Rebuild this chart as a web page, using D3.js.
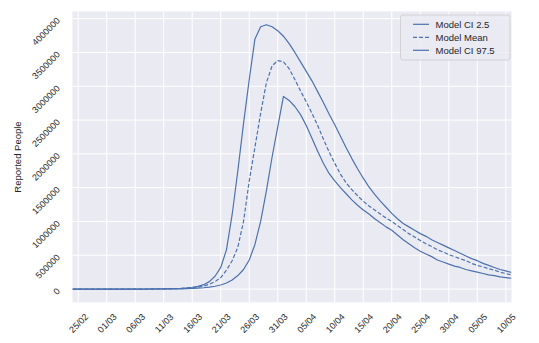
<!DOCTYPE html>
<html>
<head>
<meta charset="utf-8">
<script src="https://cdn.jsdelivr.net/npm/d3@7"></script>
<style>
  html, body { margin: 0; padding: 0; background: #ffffff; }
  svg { display: block; font-family: "Liberation Sans", Arial, sans-serif; }
</style>
</head>
<body>
<svg id="chart" width="539" height="343"></svg>
<script>
// Daily model output, 24/02/2020 .. 11/05/2020
const firstDay = "2020-02-24";
const lastDay = "2020-05-11";

const ciLow = [
  0, 0, 0, 0, 0, 0, 0, 0, 0, 0, 0,
  200, 300, 500, 700, 1000, 1500, 2000, 3000, 4000, 6000,
  9000, 14000, 20000, 30000, 42000, 60000, 90000, 135000, 200000, 290000,
  430000, 660000, 1000000, 1450000, 1950000, 2400000, 2850000, 2790000, 2700000, 2580000,
  2420000, 2230000, 2040000, 1860000, 1710000, 1600000, 1500000, 1410000, 1320000, 1240000,
  1170000, 1110000, 1040000, 980000, 920000, 870000, 800000, 730000, 670000, 610000,
  560000, 520000, 480000, 430000, 400000, 370000, 340000, 320000, 290000, 270000,
  250000, 230000, 210000, 200000, 180000, 170000, 160000
];

const modelMean = [
  0, 0, 0, 0, 0, 0, 0, 0, 0, 0, 0,
  300, 500, 800, 1200, 1700, 2500, 3500, 5000, 8000, 12000,
  18000, 28000, 45000, 72000, 110000, 170000, 280000, 420000, 620000, 1000000,
  1600000, 2100000, 2600000, 3050000, 3300000, 3380000, 3360000, 3260000, 3100000, 2930000,
  2770000, 2600000, 2420000, 2220000, 2030000, 1860000, 1700000, 1570000, 1470000, 1380000,
  1300000, 1230000, 1170000, 1110000, 1050000, 1000000, 940000, 880000, 820000, 770000,
  720000, 670000, 630000, 580000, 550000, 510000, 480000, 450000, 420000, 380000,
  350000, 330000, 300000, 280000, 250000, 230000, 210000
];

const ciHigh = [
  0, 0, 0, 0, 0, 0, 0, 0, 0, 0, 0,
  500, 800, 1200, 1800, 2600, 3800, 5500, 8000, 12000, 18000,
  27000, 40000, 65000, 110000, 190000, 320000, 580000, 1100000, 1750000, 2450000,
  3100000, 3700000, 3880000, 3910000, 3880000, 3820000, 3740000, 3630000, 3500000, 3360000,
  3220000, 3080000, 2920000, 2760000, 2590000, 2430000, 2260000, 2090000, 1930000, 1780000,
  1640000, 1510000, 1400000, 1300000, 1210000, 1120000, 1040000, 970000, 920000, 870000,
  820000, 780000, 730000, 690000, 650000, 610000, 570000, 530000, 490000, 450000,
  420000, 380000, 350000, 320000, 290000, 270000, 245000
];

const xTickLabels = ["25/02", "01/03", "06/03", "11/03", "16/03", "21/03", "26/03", "31/03",
  "05/04", "10/04", "15/04", "20/04", "25/04", "30/04", "05/05", "10/05"];
const yTickValues = [0, 500000, 1000000, 1500000, 2000000, 2500000, 3000000, 3500000, 4000000];

const seriesNames = ["Model CI 2.5", "Model Mean", "Model CI 97.5"];
const seriesDash = [null, "4,2", null];

// ---- layout ----
const svg = d3.select("#chart");
const plot = { left: 72.5, right: 511.5, top: 11.5, bottom: 302.3 };
const lineColor = "#4C72B0";
const textColor = "#262626";

const parseIso = d3.timeParse("%Y-%m-%d");
const parseTick = s => { const [dd, mm] = s.split("/"); return new Date(2020, +mm - 1, +dd); };
const days = d3.timeDay.range(parseIso(firstDay), d3.timeDay.offset(parseIso(lastDay), 1));

const x = d3.scaleTime()
  .domain([parseIso(firstDay), parseIso(lastDay)])
  .range([plot.left, plot.right]);

const yMax = d3.max(ciHigh);
const pad = yMax * 0.05;
const y = d3.scaleLinear()
  .domain([-pad, yMax + pad])
  .range([plot.bottom, plot.top]);

// background
svg.append("rect")
  .attr("x", plot.left).attr("y", plot.top)
  .attr("width", plot.right - plot.left).attr("height", plot.bottom - plot.top)
  .attr("fill", "#EAEAF2");

const xTicks = xTickLabels.map(parseTick);

// grid
const grid = svg.append("g");
grid.selectAll("line.v").data(xTicks).join("line")
  .attr("x1", d => x(d)).attr("x2", d => x(d))
  .attr("y1", plot.top).attr("y2", plot.bottom)
  .attr("stroke", "#ffffff").attr("stroke-width", 1);
grid.selectAll("line.h").data(yTickValues).join("line")
  .attr("x1", plot.left).attr("x2", plot.right)
  .attr("y1", d => y(d)).attr("y2", d => y(d))
  .attr("stroke", "#ffffff").attr("stroke-width", 1);

// x axis (labels only, rotated)
const xAxis = d3.axisBottom(x).tickValues(xTicks).tickSize(0)
  .tickFormat((d, i) => xTickLabels[i]);
const gx = svg.append("g").attr("transform", `translate(0,${plot.bottom})`).call(xAxis);
gx.select(".domain").remove();
gx.selectAll(".tick text")
  .attr("fill", textColor)
  .attr("font-size", 9)
  .attr("font-family", "Liberation Sans, Arial, sans-serif")
  .attr("text-anchor", "middle")
  .attr("dy", null).attr("y", null)
  .attr("dominant-baseline", "central")
  .attr("transform", "translate(0,21) rotate(-45)");

// y axis (labels only, rotated about their right end)
const yAxis = d3.axisLeft(y).tickValues(yTickValues).tickSize(0).tickFormat(d3.format("d"));
const gy = svg.append("g").attr("transform", `translate(${plot.left},0)`).call(yAxis);
gy.select(".domain").remove();
gy.selectAll(".tick text")
  .attr("fill", textColor)
  .attr("font-size", 9)
  .attr("font-family", "Liberation Sans, Arial, sans-serif")
  .attr("text-anchor", "end")
  .attr("x", null).attr("dy", null)
  .attr("dominant-baseline", "central")
  .attr("transform", "translate(-14,0) rotate(-45)");

svg.append("text")
  .attr("transform", "translate(17,157) rotate(-90)")
  .attr("text-anchor", "middle")
  .attr("dominant-baseline", "central")
  .attr("font-size", 9.5)
  .attr("fill", textColor)
  .text("Reported People");

// lines
const allSeries = [ciLow, modelMean, ciHigh];
const line = d3.line().x((d, i) => x(days[i])).y(d => y(d));
const clip = svg.append("clipPath").attr("id", "plotclip").append("rect")
  .attr("x", plot.left).attr("y", plot.top)
  .attr("width", plot.right - plot.left).attr("height", plot.bottom - plot.top);
const lines = svg.append("g").attr("clip-path", "url(#plotclip)");
allSeries.forEach((s, k) => {
  lines.append("path")
    .datum(s)
    .attr("d", line)
    .attr("fill", "none")
    .attr("stroke", lineColor)
    .attr("stroke-width", 1.2)
    .attr("stroke-dasharray", seriesDash[k])
    .attr("stroke-linejoin", "round");
});

// legend
const lg = svg.append("g").attr("transform", "translate(400.5,15)");
lg.append("rect")
  .attr("width", 109.5).attr("height", 45).attr("rx", 2.5)
  .attr("fill", "#EAEAF2").attr("fill-opacity", 0.8)
  .attr("stroke", "#cccccc").attr("stroke-width", 0.8);
seriesNames.forEach((name, k) => {
  const yy = 9.3 + k * 13;
  lg.append("line")
    .attr("x1", 12.5).attr("x2", 28.5).attr("y1", yy).attr("y2", yy)
    .attr("stroke", lineColor).attr("stroke-width", 1.2)
    .attr("stroke-dasharray", seriesDash[k]);
  lg.append("text")
    .attr("x", 35).attr("y", yy)
    .attr("dominant-baseline", "central")
    .attr("font-size", 9.5)
    .attr("fill", textColor)
    .text(name);
});
</script>
</body>
</html>
